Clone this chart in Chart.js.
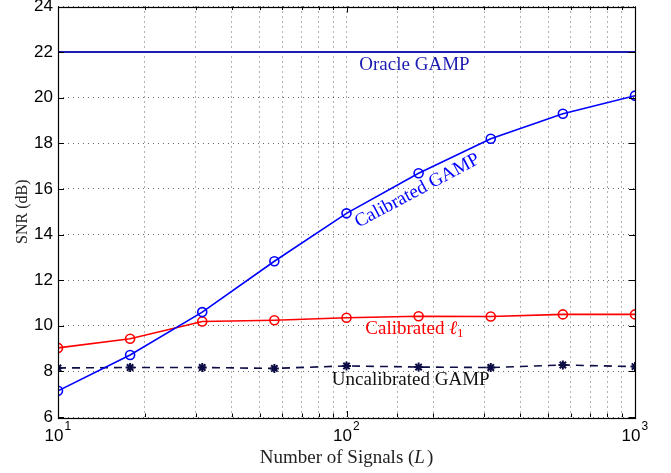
<!DOCTYPE html>
<html><head><meta charset="utf-8">
<script src="https://cdn.jsdelivr.net/npm/chart.js@4/dist/chart.umd.min.js"></script>
<style>html,body{margin:0;padding:0;background:#fff}#wrap{width:671px;height:473px;position:relative}</style>
</head><body><div id="wrap"><canvas id="c" width="671" height="473"></canvas></div>
<script>
// ---- data ----
const signals = [10, 17.78, 31.62, 56.23, 100, 177.8, 316.2, 562.3, 1000];
const oracleGamp = [22, 22, 22, 22, 22, 22, 22, 22, 22];
const calibratedGamp = [7.15, 8.72, 10.6, 12.83, 14.93, 16.69, 18.2, 19.3, 20.09];
const calibratedL1 = [9.03, 9.43, 10.19, 10.24, 10.35, 10.42, 10.41, 10.5, 10.5];
const uncalibratedGamp = [8.15, 8.17, 8.17, 8.13, 8.24, 8.19, 8.17, 8.28, 8.21];
const yTickValues = [6, 8, 10, 12, 14, 16, 18, 20, 22, 24];
const xMajorTicks = [10, 100, 1000];
const xTickBase = '10';
const xTickExponents = ['1', '2', '3'];
const seriesNames = ['Oracle GAMP', 'Calibrated GAMP', 'Calibrated \u2113', 'Uncalibrated GAMP'];

const SERIF = '"Liberation Serif", "DejaVu Serif", serif';
const SANS = '"Liberation Sans", Arial, sans-serif';

// label anchors (data coords) and styles
const labelSpecs = [
  {text: seriesNames[0], x: 172, y: 21.45, color: '#1c1cb0', rot: 0},
  {text: seriesNames[1], x: 176, y: 15.92, color: '#0000ff', rot: -28},
  {text: seriesNames[2], x: 172, y: 9.86, color: '#ff0000', rot: 0, sub: '1'},
  {text: seriesNames[3], x: 167, y: 7.62, color: '#111111', rot: 0}
];

const toPts = (vals) => vals.map((v, i) => ({x: signals[i], y: v}));

const framePlugin = {
  id: 'frame',
  afterDraw(chart) {
    const {ctx, chartArea: a, scales: {x, y}} = chart;
    ctx.save();
    ctx.strokeStyle = '#000';
    ctx.lineWidth = 1;
    ctx.beginPath();
    x.ticks.forEach(t => {
      const px = Math.round(x.getPixelForValue(t.value)) + 0.5;
      const lg = Math.log10(t.value);
      const major = Math.abs(lg - Math.round(lg)) < 1e-6;
      const len = major ? 6 : 3.5;
      ctx.moveTo(px, a.bottom); ctx.lineTo(px, a.bottom - len);
      ctx.moveTo(px, a.top); ctx.lineTo(px, a.top + len);
    });
    y.ticks.forEach(t => {
      const py = Math.round(y.getPixelForValue(t.value)) + 0.5;
      ctx.moveTo(a.left, py); ctx.lineTo(a.left + 6, py);
      ctx.moveTo(a.right, py); ctx.lineTo(a.right - 6, py);
    });
    ctx.stroke();
    ctx.lineWidth = 1.2;
    ctx.strokeRect(Math.round(a.left) + 0.5, Math.round(a.top) + 0.5, Math.round(a.right - a.left), Math.round(a.bottom - a.top));

    // x tick labels with superscript exponents
    ctx.fillStyle = '#000';
    ctx.textBaseline = 'alphabetic';
    xMajorTicks.forEach((v, i) => {
      const px = x.getPixelForValue(v);
      ctx.font = '17px ' + SANS;
      ctx.textAlign = 'center';
      const wb = ctx.measureText(xTickBase).width;
      ctx.fillText(xTickBase, px - 4, 441);
      ctx.font = '12px ' + SANS;
      ctx.textAlign = 'left';
      ctx.fillText(xTickExponents[i], px - 4 + wb / 2 + 1, 430);
    });

    // axis titles
    ctx.fillStyle = '#222';
    ctx.textBaseline = 'middle';
    const part1 = 'Number of Signals (', partL = 'L', part2 = ')';
    ctx.font = '19px ' + SERIF;
    const w1 = ctx.measureText(part1).width, w2 = ctx.measureText(part2).width;
    ctx.font = 'italic 19px ' + SERIF;
    const wL = ctx.measureText(partL).width;
    const total = w1 + wL + w2 + 2;
    let sx = (a.left + a.right) / 2 - total / 2;
    const ty = 458;
    ctx.textAlign = 'left';
    ctx.font = '19px ' + SERIF; ctx.fillText(part1, sx, ty);
    ctx.font = 'italic 19px ' + SERIF; ctx.fillText(partL, sx + w1, ty);
    ctx.font = '19px ' + SERIF; ctx.fillText(part2, sx + w1 + wL + 2, ty);
    // y title
    ctx.save();
    ctx.translate(23, (a.top + a.bottom) / 2);
    ctx.rotate(-Math.PI / 2);
    ctx.textAlign = 'center';
    ctx.font = '16px ' + SERIF;
    ctx.fillText('SNR (dB)', 0, 0);
    ctx.restore();

    // series labels
    labelSpecs.forEach(s => {
      const px = x.getPixelForValue(s.x), py = y.getPixelForValue(s.y);
      ctx.save();
      ctx.translate(px, py);
      ctx.rotate(s.rot * Math.PI / 180);
      ctx.fillStyle = s.color;
      ctx.font = '19px ' + SERIF;
      ctx.textBaseline = 'middle';
      if (s.sub) {
        const base = 'Calibrated ';
        const wb = ctx.measureText(base).width;
        ctx.font = 'italic 19px ' + SERIF;
        const wl = ctx.measureText('\u2113').width;
        ctx.font = '13px ' + SERIF;
        const ws = ctx.measureText(s.sub).width;
        const tw = wb + wl + ws;
        let cx = -tw / 2;
        ctx.textAlign = 'left';
        ctx.font = '19px ' + SERIF; ctx.fillText(base, cx, 0);
        ctx.font = 'italic 19px ' + SERIF; ctx.fillText('\u2113', cx + wb, 0);
        ctx.font = '13px ' + SERIF; ctx.fillText(s.sub, cx + wb + wl, 5);
      } else {
        ctx.textAlign = 'center';
        ctx.fillText(s.text, 0, 0);
      }
      ctx.restore();
    });
    ctx.restore();
  }
};

new Chart(document.getElementById('c'), {
  type: 'line',
  data: {
    datasets: [
      {label: seriesNames[0], data: toPts(oracleGamp), borderColor: '#1c1cb0', borderWidth: 2, pointRadius: 0, tension: 0},
      {label: seriesNames[1], data: toPts(calibratedGamp), borderColor: '#0000ff', borderWidth: 1.6, pointRadius: 4.5, pointStyle: 'circle', pointBorderWidth: 1.6, pointBackgroundColor: 'rgba(0,0,0,0)', pointBorderColor: '#0000ff', tension: 0},
      {label: seriesNames[2], data: toPts(calibratedL1), borderColor: '#ff0000', borderWidth: 1.6, pointRadius: 4.5, pointStyle: 'circle', pointBorderWidth: 1.6, pointBackgroundColor: 'rgba(0,0,0,0)', pointBorderColor: '#ff0000', tension: 0},
      {label: seriesNames[3], data: toPts(uncalibratedGamp), borderColor: '#0d0d45', borderWidth: 1.6, borderDash: [8, 6], pointRadius: 4.5, pointStyle: 'star', pointBorderWidth: 2, pointBorderColor: '#0d0d45', pointBackgroundColor: '#0d0d45', tension: 0}
    ]
  },
  options: {
    responsive: false,
    animation: false,
    devicePixelRatio: 1,
    layout: {padding: {left: 0, top: 5, right: 36, bottom: 0}},
    plugins: {legend: {display: false}, tooltip: {enabled: false}},
    scales: {
      x: {
        type: 'logarithmic', min: 10, max: 1000,
        afterFit(s) { s.height = 56; s.paddingLeft = 0; s.paddingRight = 0; },
        border: {display: false, dash: [1, 4]},
        grid: {color: 'rgba(0,0,0,0.6)', lineWidth: 1, drawTicks: false},
        ticks: {display: true, color: 'rgba(0,0,0,0)', font: {family: SANS, size: 16}, padding: 8, maxRotation: 0, autoSkip: false, callback: () => ''}
      },
      y: {
        min: 6, max: 24,
        afterFit(s) { s.width = 58; s.paddingTop = 0; s.paddingBottom = 0; },
        afterBuildTicks(s) { s.ticks = yTickValues.map(v => ({value: v})); },
        border: {display: false, dash: [1, 4]},
        grid: {color: 'rgba(0,0,0,0.6)', lineWidth: 1, drawTicks: false},
        ticks: {color: '#000', font: {family: SANS, size: 17}, padding: 5}
      }
    }
  },
  plugins: [framePlugin]
});
</script>
</body></html>
